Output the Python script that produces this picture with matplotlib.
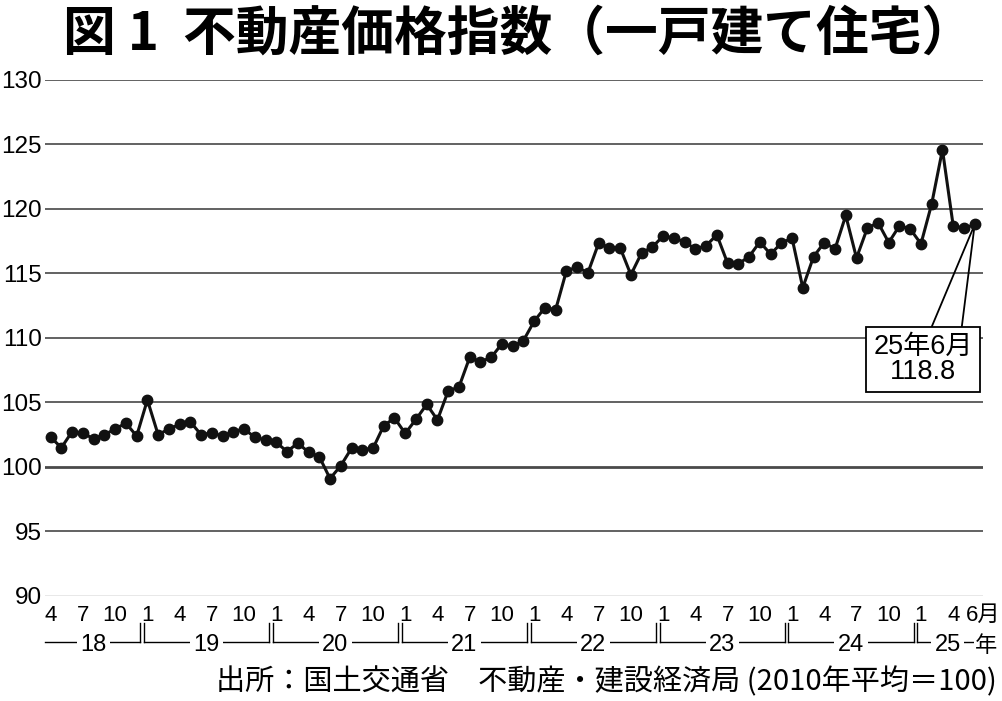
import pandas as pd
import matplotlib
matplotlib.use('Agg')
from matplotlib import pyplot as plt

# Data: real estate price index, detached houses (2010 avg = 100), Apr 2018 - Jun 2025
months = pd.date_range('2018-04-01', '2025-06-01', freq='MS')
values = [102.3, 101.5, 102.75, 102.6, 102.2, 102.5, 102.95, 103.4, 102.4,           # 2018
          105.2, 102.5, 102.95, 103.3, 103.5, 102.5, 102.65, 102.4, 102.75, 102.95, 102.3, 102.1,  # 2019
          101.9, 101.2, 101.85, 101.15, 100.8, 99.1, 100.1, 101.45, 101.35, 101.45, 103.2, 103.8,  # 2020
          102.6, 103.7, 104.85, 103.65, 105.9, 106.2, 108.5, 108.15, 108.5, 109.55, 109.35, 109.8,  # 2021
          111.3, 112.35, 112.2, 115.2, 115.5, 115.05, 117.35, 117.0, 117.0, 114.9, 116.6, 117.05,  # 2022
          117.9, 117.75, 117.45, 116.9, 117.15, 118.0, 115.8, 115.75, 116.3, 117.45, 116.5, 117.35,  # 2023
          117.75, 113.9, 116.3, 117.4, 116.9, 119.5, 116.2, 118.5, 118.95, 117.4, 118.7, 118.45,  # 2024
          117.3, 120.4, 124.6, 118.7, 118.5, 118.8]                                         # 2025
yticks = [90, 95, 100, 105, 110, 115, 120, 125, 130]
title = '図 1  不動産価格指数（一戸建て住宅）'
source = '出所：国土交通省　不動産・建設経済局 (2010年平均＝100)'
note = '25年6月\n118.8'

num_font = ['Liberation Sans', 'Noto Sans CJK JP']
jp_font = ['Noto Sans CJK JP', 'DejaVu Sans']
plt.rcParams['font.family'] = num_font

x = list(range(len(values)))

fig = plt.figure(figsize=(10.02, 7.01), dpi=100)
ax = fig.add_axes([0.0449, 0.1498, 0.9361, 0.7361])
ax.set_xlim(-0.53, len(values) - 1 + 0.77)
ax.set_ylim(90, 130)
for s in ax.spines.values():
    s.set_visible(False)

# horizontal grid lines
for yv in yticks:
    if yv == 90:
        ax.axhline(yv, color='#8a8a8a', lw=1.0, zorder=1)
    elif yv == 100:
        ax.axhline(yv, color='#4a4a4a', lw=2.0, zorder=1)
    else:
        ax.axhline(yv, color='#555555', lw=1.3, zorder=1)

ax.set_yticks(yticks)
ax.set_yticklabels([str(v) for v in yticks], fontsize=17.5)
ax.tick_params(axis='y', length=0, pad=2.5)

# month ticks (1, 4, 7, 10)
tick_pos = [i for i, m in enumerate(months) if m.month in (1, 4, 7, 10)]
tick_lab = [str(months[i].month) for i in tick_pos]
ax.set_xticks(tick_pos)
ax.set_xticklabels(tick_lab, fontsize=16)
ax.tick_params(axis='x', length=0, pad=6.5)
tr = ax.get_xaxis_transform()
ax.annotate('6月', xy=(x[-1], 0), xycoords=tr, xytext=(-6, -6.5), textcoords='offset points',
            ha='left', va='top', fontsize=16, family=num_font, annotation_clip=False)

# year row
y_line = -0.0886
y_top = -0.0523
years = sorted(set(m.year for m in months))
for yr in years:
    idx = [i for i, m in enumerate(months) if m.year == yr]
    left = idx[0] - 0.5 + 0.17
    right = idx[-1] + 0.5 - 0.17
    if yr == years[0]:
        left = ax.get_xlim()[0]
    if yr == years[-1]:
        right = idx[-1] + 0.1
    ax.plot([left, right], [y_line, y_line], color='black', lw=1.0, transform=tr, clip_on=False)
    if yr != years[0]:
        ax.plot([left, left], [y_line, y_top], color='black', lw=1.0, transform=tr, clip_on=False)
    if yr != years[-1]:
        ax.plot([right, right], [y_line, y_top], color='black', lw=1.0, transform=tr, clip_on=False)
    mid = (idx[0] + idx[-1]) / 2
    ax.text(mid, y_line - 0.007, str(yr)[2:], transform=tr, ha='center', va='center', fontsize=17,
            bbox=dict(facecolor='white', edgecolor='none', pad=2.5), zorder=5, clip_on=False)
ax.text(x[-1] + 0.05, y_line - 0.007, '年', transform=tr, ha='left', va='center', fontsize=16,
        family=jp_font, bbox=dict(facecolor='white', edgecolor='none', pad=1), zorder=5, clip_on=False)

# main series
ax.plot(x, values, color='#111111', lw=2.2, marker='o', markersize=7.5, zorder=4, clip_on=False)

# callout for latest value
box_x = x[-1] - 4.8
box_y = 108.35
ax.plot([x[-1], x[-1] - 4.0], [values[-1], 110.87], color='black', lw=1.3, zorder=3)
ax.plot([x[-1], x[-1] - 1.2], [values[-1], 110.87], color='black', lw=1.3, zorder=3)
ax.text(box_x, box_y, note, ha='center', va='center', fontsize=19.5, linespacing=0.95,
        family=num_font, zorder=6,
        bbox=dict(boxstyle='square,pad=0.26', facecolor='white', edgecolor='black', lw=1.3))

fig.text(0.518, 0.952, title, ha='center', va='center', fontsize=38, fontweight='bold', family=jp_font)
fig.text(0.995, 0.027, source, ha='right', va='center', fontsize=21, family=jp_font)

fig.savefig('out.png', dpi=100)
